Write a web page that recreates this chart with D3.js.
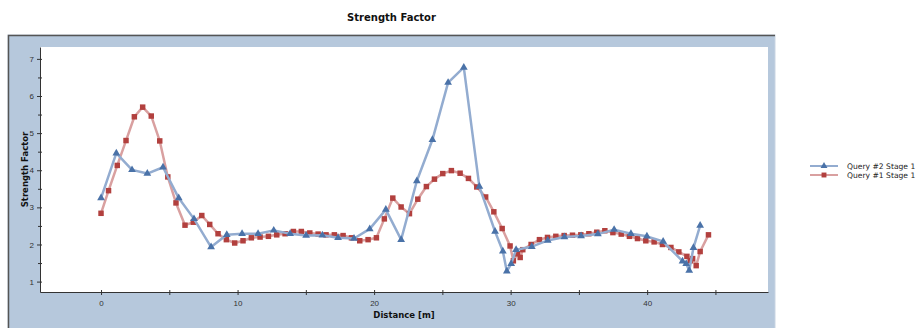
<!DOCTYPE html>
<html>
<head>
<meta charset="utf-8">
<script src="https://cdn.jsdelivr.net/npm/d3@7"></script>
<style>
  body { margin: 0; background: #fff; }
  svg { font-family: "DejaVu Sans", Verdana, sans-serif; }
  .tick text { font-size: 8px; fill: #333; }
  .tick line, .domain { stroke: #333; }
</style>
</head>
<body>
<div id="chart"></div>
<script>
// Query #2 Stage 1 (triangles)
const q2Dist = [0.0, 1.12, 2.27, 3.39, 4.54, 5.69, 6.81, 8.06, 9.21, 10.33, 11.5, 12.65, 13.85, 15.02,
  16.21, 17.36, 18.53, 19.68, 20.86, 21.98, 23.13, 24.27, 25.42, 26.57, 27.71, 28.86, 29.43, 29.72,
  30.04, 30.4, 31.55, 32.72, 33.94, 35.16, 36.39, 37.58, 38.81, 39.98, 41.17, 42.59, 42.86, 43.08,
  43.39, 43.88];
const q2Value = [3.25, 4.46, 4.01, 3.91, 4.08, 3.25, 2.69, 1.93, 2.26, 2.29, 2.29, 2.38, 2.29, 2.24,
  2.25, 2.18, 2.16, 2.42, 2.94, 2.13, 3.71, 4.82, 6.36, 6.77, 3.56, 2.35, 1.82, 1.28,
  1.48, 1.86, 1.94, 2.11, 2.2, 2.23, 2.28, 2.4, 2.29, 2.22, 2.08, 1.55, 1.48, 1.3,
  1.91, 2.51];

// Query #1 Stage 1 (squares)
const q1Dist = [0.0, 0.55, 1.19, 1.83, 2.44, 3.05, 3.68, 4.3, 4.89, 5.49, 6.15, 6.76, 7.38, 7.96,
  8.57, 9.18, 9.79, 10.4, 11.01, 11.65, 12.26, 12.87, 13.48, 14.09, 14.67, 15.29, 15.9, 16.48,
  17.09, 17.73, 18.34, 18.95, 19.56, 20.17, 20.75, 21.37, 21.98, 22.59, 23.2, 23.83, 24.42, 25.03,
  25.66, 26.3, 26.91, 27.52, 28.17, 28.77, 29.38, 29.96, 30.2, 30.5, 30.7, 30.89, 31.5, 32.11,
  32.7, 33.31, 33.92, 34.53, 35.14, 35.73, 36.31, 36.9, 37.49, 38.1, 38.7, 39.29, 39.9, 40.51,
  41.12, 41.74, 42.32, 42.91, 43.15, 43.33, 43.59, 43.88, 44.49];
const q1Value = [2.84, 3.45, 4.13, 4.8, 5.44, 5.7, 5.46, 4.79, 3.82, 3.12, 2.52, 2.6, 2.78, 2.54,
  2.29, 2.13, 2.04, 2.1, 2.18, 2.2, 2.22, 2.26, 2.29, 2.35, 2.35, 2.31, 2.28, 2.26,
  2.26, 2.24, 2.18, 2.1, 2.13, 2.18, 2.69, 3.25, 3.01, 2.83, 3.22, 3.56, 3.76, 3.91,
  3.99, 3.92, 3.78, 3.55, 3.28, 2.88, 2.43, 1.96, 1.56, 1.75, 1.65, 1.86, 2.0, 2.13,
  2.19, 2.22, 2.24, 2.25, 2.26, 2.29, 2.33, 2.37, 2.32, 2.28, 2.22, 2.16, 2.1, 2.07,
  2.0, 1.92, 1.8, 1.68, 1.56, 1.62, 1.43, 1.81, 2.26];

const xTicks = [0, 10, 20, 30, 40];
const yTicks = [1, 2, 3, 4, 5, 6, 7];

const series = [
  { name: "Query #2 Stage 1", xs: q2Dist, ys: q2Value, line: "#93acd0", mark: "#4a72a8", shape: d3.symbolTriangle, size: 26 },
  { name: "Query #1 Stage 1", xs: q1Dist, ys: q1Value, line: "#d9a0a0", mark: "#b2403e", shape: d3.symbolSquare, size: 30 }
];

const width = 919, height = 328;
const panel = { left: 8, top: 35, right: 775 };
const plot = { left: 40, top: 47, right: 768, bottom: 292 };

const svg = d3.select("#chart").append("svg")
  .attr("width", width)
  .attr("height", height);

// title
svg.append("text")
  .attr("x", (panel.left + panel.right) / 2)
  .attr("y", 21)
  .attr("text-anchor", "middle")
  .style("font-size", "10px")
  .style("font-weight", "bold")
  .style("fill", "#111")
  .text("Strength Factor");

// blue panel
svg.append("rect")
  .attr("x", panel.left).attr("y", panel.top)
  .attr("width", panel.right - panel.left).attr("height", height - panel.top + 2)
  .attr("fill", "#b6c8dc")
  .attr("stroke", "#c9d5e3");
svg.append("path")
  .attr("d", `M${panel.left + 0.5},${height} V${panel.top + 0.5} H${panel.right}`)
  .attr("fill", "none")
  .attr("stroke", "#555")
  .attr("stroke-width", 1.5);

svg.append("rect")
  .attr("x", plot.left).attr("y", plot.top)
  .attr("width", plot.right - plot.left).attr("height", plot.bottom - plot.top)
  .attr("fill", "#fff");

const x = d3.scaleLinear().domain([-4.47, 48.85]).range([plot.left, plot.right]);
const y = d3.scaleLinear().domain([0.72, 7.32]).range([plot.bottom, plot.top]);

// minor ticks
svg.append("g")
  .attr("transform", `translate(0,${plot.bottom})`)
  .call(d3.axisBottom(x).tickValues([5, 15, 25, 35, 45]).tickSize(3).tickFormat(""))
  .call(g => g.select(".domain").remove())
  .call(g => g.selectAll(".tick line").attr("y1", -2));
svg.append("g")
  .attr("transform", `translate(${plot.left},0)`)
  .call(d3.axisLeft(y).tickValues([1.5, 2.5, 3.5, 4.5, 5.5, 6.5]).tickSize(2).tickFormat(""))
  .call(g => g.select(".domain").remove())
  .call(g => g.selectAll(".tick line").attr("x1", 2));

// major axes
svg.append("g")
  .attr("transform", `translate(0,${plot.bottom})`)
  .call(d3.axisBottom(x).tickValues(xTicks).tickFormat(d3.format("d")).tickSize(3).tickSizeOuter(0).tickPadding(5))
  .call(g => g.selectAll(".tick line").attr("y1", -2));
svg.append("g")
  .attr("transform", `translate(${plot.left},0)`)
  .call(d3.axisLeft(y).tickValues(yTicks).tickFormat(d3.format("d")).tickSize(3).tickSizeOuter(0).tickPadding(3))
  .call(g => g.selectAll(".tick line").attr("x1", 2));

// axis titles
svg.append("text")
  .attr("x", (plot.left + plot.right) / 2)
  .attr("y", 318)
  .attr("text-anchor", "middle")
  .style("font-size", "8.5px")
  .style("font-weight", "bold")
  .style("fill", "#111")
  .text("Distance [m]");
svg.append("text")
  .attr("transform", `translate(28,${(plot.top + plot.bottom) / 2}) rotate(-90)`)
  .attr("text-anchor", "middle")
  .style("font-size", "8.5px")
  .style("font-weight", "bold")
  .style("fill", "#111")
  .text("Strength Factor");

// series
const line = d3.line().x(d => x(d[0])).y(d => y(d[1]));
series.slice().reverse().forEach(s => {
  const pts = s.xs.map((v, i) => [v, s.ys[i]]);
  const g = svg.append("g");
  g.append("path")
    .attr("d", line(pts))
    .attr("fill", "none")
    .attr("stroke", s.line)
    .attr("stroke-width", 2.5)
    .attr("stroke-linejoin", "round");
  g.selectAll("path.pt")
    .data(pts)
    .join("path")
    .attr("class", "pt")
    .attr("d", d3.symbol().type(s.shape).size(s.size))
    .attr("transform", d => `translate(${x(d[0])},${y(d[1])})`)
    .attr("fill", s.mark);
});

// legend
const legend = svg.append("g").attr("transform", "translate(810,166)");
series.forEach((s, i) => {
  const g = legend.append("g").attr("transform", `translate(0,${i * 9})`);
  g.append("line").attr("x1", 0).attr("x2", 28).attr("y1", 0).attr("y2", 0)
    .attr("stroke", s.line).attr("stroke-width", 2);
  g.append("path")
    .attr("d", d3.symbol().type(s.shape).size(s.size * 0.8))
    .attr("transform", "translate(14,0)")
    .attr("fill", s.mark);
  g.append("text")
    .attr("x", 37).attr("y", 3)
    .style("font-size", "7.6px")
    .style("fill", "#222")
    .text(s.name);
});
</script>
</body>
</html>
